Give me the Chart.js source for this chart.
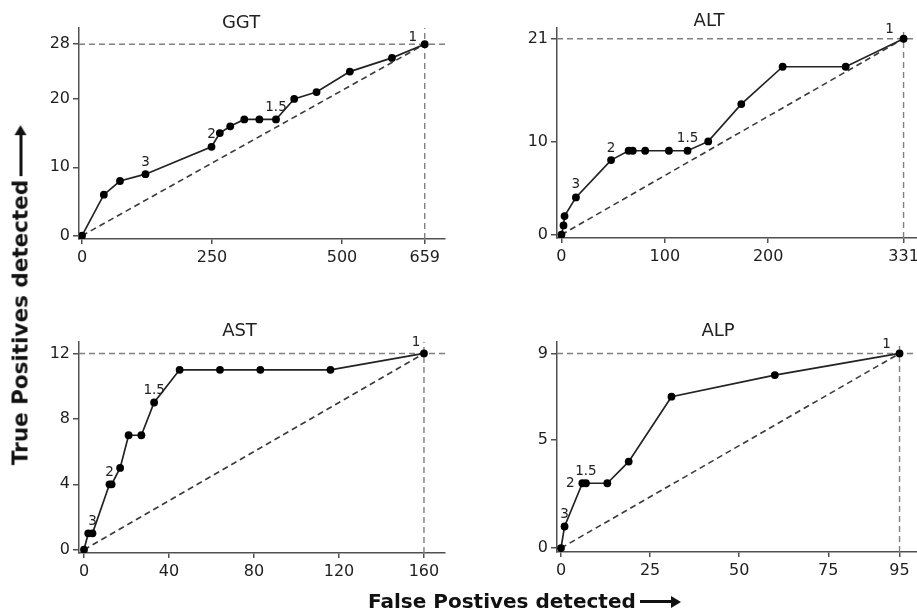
<!DOCTYPE html>
<html><head><meta charset="utf-8">
<script src="https://cdn.jsdelivr.net/npm/chart.js@4.4.1/dist/chart.umd.min.js"></script>
<style>
html,body{margin:0;padding:0;width:917px;height:612px;overflow:hidden;background:#fff;font-family:"DejaVu Sans",sans-serif;}
canvas{position:absolute;}
.atitle{position:absolute;font-family:"DejaVu Sans",sans-serif;font-weight:bold;color:#111;white-space:nowrap;}
.arr{display:inline-block;position:relative;height:3px;background:#111;vertical-align:middle;margin-left:4px;margin-right:9px;top:-1px;}
.arr:after{content:"";position:absolute;right:-9px;top:-4.5px;border-left:10px solid #111;border-top:6px solid transparent;border-bottom:6px solid transparent;}
#xt{left:368px;top:591px;font-size:20px;line-height:20px;}
#xt .arr{width:32px;}
#yt{left:20px;top:295px;font-size:21.5px;line-height:21px;transform:translate(-50%,-50%) rotate(-90deg);}
#yt .arr{width:42px;}
</style></head><body>
<canvas id="c0"></canvas>
<canvas id="c1"></canvas>
<canvas id="c2"></canvas>
<canvas id="c3"></canvas>
<div class="atitle" id="yt">True Positives detected<span class="arr"></span></div>
<div class="atitle" id="xt">False Postives detected<span class="arr"></span></div>
<script>
// ---- data ----
const ggtFP = [0, 42, 73, 122, 249, 265, 285, 312, 341, 373, 408, 451, 515, 596, 659];
const ggtTP = [0, 6, 8, 9, 13, 15, 16, 17, 17, 17, 20, 21, 24, 26, 28];
const altFP = [0, 2, 3, 14, 48, 65, 69, 81, 104, 122, 142, 174, 214, 275, 331];
const altTP = [0, 1, 2, 4, 8, 9, 9, 9, 9, 9, 10, 14, 18, 18, 21];
const astFP = [0, 2, 4, 12, 13, 17, 21, 27, 33, 45, 64, 83, 116, 160];
const astTP = [0, 1, 1, 4, 4, 5, 7, 7, 9, 11, 11, 11, 11, 12];
const alpFP = [0, 1, 6, 7, 13, 19, 31, 60, 95];
const alpTP = [0, 1, 3, 3, 3, 4, 7, 8, 9];

const ggtXTicks = [0, 250, 500, 659];
const ggtYTicks = [0, 10, 20, 28];
const altXTicks = [0, 100, 200, 331];
const altYTicks = [0, 10, 21];
const astXTicks = [0, 40, 80, 120, 160];
const astYTicks = [0, 4, 8, 12];
const alpXTicks = [0, 25, 50, 75, 95];
const alpYTicks = [0, 5, 9];

const thresholdNames = ['3', '2', '1.5', '1'];
const ggtLabelIdx = [3, 4, 9, 14];
const altLabelIdx = [3, 4, 9, 14];
const astLabelIdx = [2, 3, 8, 13];
const alpLabelIdx = [1, 2, 3, 8];

const panelNames = ['GGT', 'ALT', 'AST', 'ALP'];

// ---- layout / style ----
const panels = [
  {id:'c0', name:panelNames[0], fp:ggtFP, tp:ggtTP, xt:ggtXTicks, yt:ggtYTicks, li:ggtLabelIdx,
   left:20, top:0, w:440, h:272, pt:28, pr:15, yW:59, xH:33, xMin:-5.8, xMax:698, yMin:-0.48, yMax:30.37,
   titleX:221, titleY:23.5, off:[[0,-12],[0,-12],[0,-12],[-12,-7]]},
  {id:'c1', name:panelNames[1], fp:altFP, tp:altTP, xt:altXTicks, yt:altYTicks, li:altLabelIdx,
   left:500, top:0, w:440, h:272, pt:28, pr:23, yW:57, xH:34, xMin:-4.3, xMax:344, yMin:-0.35, yMax:22.15,
   titleX:209, titleY:21, off:[[0,-13],[0,-12],[0,-12],[-14,-9]]},
  {id:'c2', name:panelNames[2], fp:astFP, tp:astTP, xt:astXTicks, yt:astYTicks, li:astLabelIdx,
   left:20, top:300, w:440, h:290, pt:42, pr:15, yW:59, xH:37, xMin:-2.35, xMax:169.9, yMin:-0.2, yMax:12.7,
   titleX:219.5, titleY:31.7, off:[[0,-12],[0,-12],[0,-12],[-8,-11]]},
  {id:'c3', name:panelNames[3], fp:alpFP, tp:alpTP, xt:alpXTicks, yt:alpYTicks, li:alpLabelIdx,
   left:500, top:300, w:440, h:290, pt:42, pr:23, yW:57, xH:38, xMin:-1.12, xMax:99.9, yMin:-0.18, yMax:9.53,
   titleX:218, titleY:31.7, off:[[0,-12],[-12,0],[0,-12],[-13,-9]]}
];

const FONT = '"DejaVu Sans", sans-serif';
const AXIS = '#505050';

const annot = {
  id: 'annot',
  afterDatasetsDraw(chart, args, o) {
    const ctx = chart.ctx, xs = chart.scales.x, ys = chart.scales.y;
    ctx.save();
    ctx.fillStyle = '#222';
    ctx.textAlign = 'center';
    ctx.textBaseline = 'middle';
    ctx.font = '13.5px ' + FONT;
    o.p.li.forEach((idx, k) => {
      const px = xs.getPixelForValue(o.p.fp[idx]) + o.p.off[k][0];
      const py = ys.getPixelForValue(o.p.tp[idx]) + o.p.off[k][1];
      ctx.fillText(thresholdNames[k], px, py);
    });
    ctx.font = '18px ' + FONT;
    ctx.fillText(o.p.name, o.p.titleX, o.p.titleY);
    ctx.restore();
  }
};

panels.forEach(p => {
  const cv = document.getElementById(p.id);
  cv.width = p.w; cv.height = p.h;
  cv.style.left = p.left + 'px'; cv.style.top = p.top + 'px';
  cv.style.width = p.w + 'px'; cv.style.height = p.h + 'px';
  const fpMax = p.fp[p.fp.length - 1], tpMax = p.tp[p.tp.length - 1];
  new Chart(cv, {
    type: 'scatter',
    data: {
      datasets: [
        {data: p.fp.map((x, i) => ({x, y: p.tp[i]})), showLine: true, borderColor: '#222', borderWidth: 1.7,
         pointRadius: 3.9, pointBackgroundColor: '#000', pointBorderColor: '#000', pointBorderWidth: 0, tension: 0},
        {data: [{x: 0, y: 0}, {x: fpMax, y: tpMax}], showLine: true, borderColor: '#3a3a3a', borderWidth: 1.6,
         borderDash: [6, 4], pointRadius: 0},
        {data: [{x: p.xMin, y: tpMax}, {x: p.xMax, y: tpMax}], showLine: true, borderColor: '#808080', borderWidth: 1.4,
         borderDash: [6, 4], pointRadius: 0},
        {data: [{x: fpMax, y: p.yMin}, {x: fpMax, y: p.yMax}], showLine: true, borderColor: '#808080', borderWidth: 1.4,
         borderDash: [6, 4], pointRadius: 0}
      ]
    },
    options: {
      responsive: false, animation: false, devicePixelRatio: 1,
      layout: {autoPadding: false, padding: {top: p.pt, right: p.pr, left: 0, bottom: 0}},
      plugins: {legend: {display: false}, tooltip: {enabled: false}, title: {display: false}, annot: {p}},
      scales: {
        x: {type: 'linear', min: p.xMin, max: p.xMax,
            afterBuildTicks: s => { s.ticks = p.xt.map(v => ({value: v})); },
            afterFit: s => { s.height = p.xH; },
            grid: {display: true, drawOnChartArea: false, drawTicks: true, tickLength: 5, color: AXIS, lineWidth: 1.5},
            border: {display: true, color: AXIS, width: 1.5},
            ticks: {font: {family: FONT, size: 16}, color: '#1e1e1e', padding: 4, maxRotation: 0, autoSkip: false,
                    callback: v => String(v)}},
        y: {type: 'linear', min: p.yMin, max: p.yMax,
            afterBuildTicks: s => { s.ticks = p.yt.map(v => ({value: v})); },
            afterFit: s => { s.width = p.yW; },
            grid: {display: true, drawOnChartArea: false, drawTicks: true, tickLength: 6, color: AXIS, lineWidth: 1.5},
            border: {display: true, color: AXIS, width: 1.5},
            ticks: {font: {family: FONT, size: 16}, color: '#1e1e1e', padding: 3, autoSkip: false,
                    callback: v => String(v)}}
      }
    },
    plugins: [annot]
  });
});
</script>
</body></html>
